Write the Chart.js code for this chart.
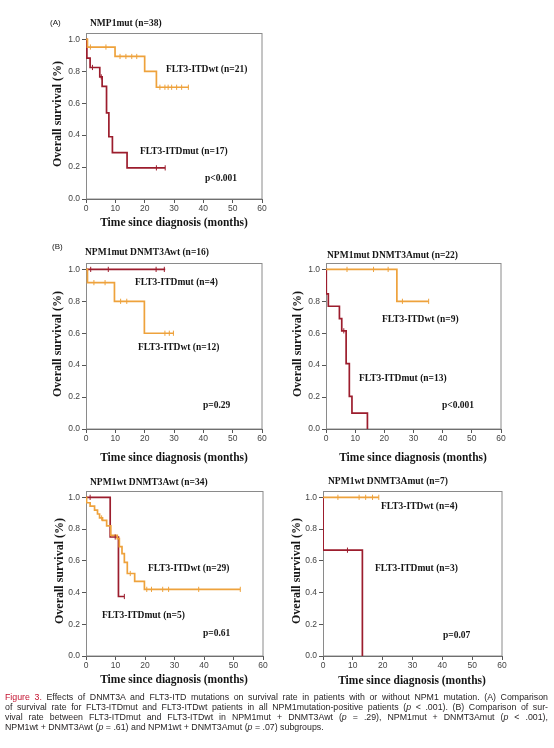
<!DOCTYPE html>
<html><head><meta charset="utf-8">
<script src="https://cdn.jsdelivr.net/npm/chart.js@4.4.1/dist/chart.umd.min.js"></script>
<style>
html,body{margin:0;padding:0;background:#fff;width:554px;height:748px;overflow:hidden;}
canvas{position:absolute;}
#cap{position:absolute;left:5px;top:692px;width:543px;font-family:'Liberation Sans',Arial,sans-serif;font-size:8.8px;line-height:10px;color:#231f20;}
#cap .j{text-align:justify;text-align-last:justify;}
#cap .r{color:#c4122f;}
</style>
</head><body>
<canvas id="pA"></canvas>
<canvas id="pB1"></canvas>
<canvas id="pB2"></canvas>
<canvas id="pC1"></canvas>
<canvas id="pC2"></canvas>
<div id="cap">
<div class="j"><span class="r">Figure 3.</span> Effects of DNMT3A and FLT3-ITD mutations on survival rate in patients with or without NPM1 mutation. (A) Comparison</div>
<div class="j">of survival rate for FLT3-ITDmut and FLT3-ITDwt patients in all NPM1mutation-positive patients (<i>p</i> &lt; .001). (B) Comparison of sur-</div>
<div class="j">vival rate between FLT3-ITDmut and FLT3-ITDwt in NPM1mut + DNMT3Awt (<i>p</i> = .29), NPM1mut + DNMT3Amut (<i>p</i> &lt; .001),</div>
<div>NPM1wt + DNMT3Awt (<i>p</i> = .61) and NPM1wt + DNMT3Amut (<i>p</i> = .07) subgroups.</div>
</div>
<script>
// ---------- axis / tick labels ----------
const X_TICKS = [0, 10, 20, 30, 40, 50, 60];
const Y_TICKS = [0, 0.2, 0.4, 0.6, 0.8, 1.0];
const X_TITLE = 'Time since diagnosis (months)';
const Y_TITLE = 'Overall survival (%)';

// ---------- Panel A: NMP1mut (n=38) ----------
const A_wt_time = [0, 0.5, 9.9, 20, 24];
const A_wt_surv = [1, 0.952, 0.893, 0.80, 0.70];
const A_wt_end = 35;
const A_wt_cens = [1.5, 6.8, 11.6, 13.6, 15.6, 17.3, 25.2, 26.9, 28, 29.2, 30.9, 32.6, 34.9];
const A_mut_time = [0, 0.3, 1.4, 4.7, 5.5, 7.0, 7.8, 9.0, 14.0];
const A_mut_surv = [1, 0.882, 0.824, 0.765, 0.706, 0.54, 0.39, 0.29, 0.195];
const A_mut_end = 27;
const A_mut_cens = [2.2, 5.2, 24, 27];

// ---------- Panel B1: NPM1mut DNMT3Awt (n=16) ----------
const B1_mut_time = [0];
const B1_mut_surv = [1];
const B1_mut_end = 27;
const B1_mut_cens = [1.6, 7.6, 23.9, 26.7];
const B1_wt_time = [0, 0.5, 9.7, 19.9];
const B1_wt_surv = [1, 0.917, 0.80, 0.60];
const B1_wt_end = 30;
const B1_wt_cens = [2.7, 6.5, 11.8, 13.9, 26.9, 28.4, 29.8];

// ---------- Panel B2: NPM1mut DNMT3Amut (n=22) ----------
const B2_wt_time = [0, 24.3];
const B2_wt_surv = [1, 0.80];
const B2_wt_end = 35.2;
const B2_wt_cens = [7.2, 16.3, 21.3, 26.2, 35.2];
const B2_mut_time = [0, 0.1, 0.8, 4.6, 5.4, 6.9, 8.0, 8.9, 14.2];
const B2_mut_surv = [1, 0.846, 0.769, 0.692, 0.615, 0.41, 0.205, 0.10, 0];
const B2_mut_end = 14.2;
const B2_mut_cens = [6.1];

// ---------- Panel C1: NPM1wt DNMT3Awt (n=34) ----------
const C1_mut_time = [0, 8.2, 11];
const C1_mut_surv = [1, 0.75, 0.375];
const C1_mut_end = 13;
const C1_mut_cens = [1.4, 9.9, 13];
const C1_wt_time = [0, 0.2, 1.4, 2.9, 3.9, 4.6, 5.6, 7.0, 8.4, 10.6, 11.3, 12.2, 13.0, 14.0, 16.5, 19.8];
const C1_wt_surv = [1, 0.966, 0.945, 0.92, 0.895, 0.87, 0.855, 0.82, 0.76, 0.74, 0.69, 0.645, 0.59, 0.52, 0.47, 0.42];
const C1_wt_end = 52.3;
const C1_wt_cens = [5.3, 15, 20.6, 22.2, 26, 28, 38.2, 52.3];

// ---------- Panel C2: NPM1wt DNMT3Amut (n=7) ----------
const C2_wt_time = [0];
const C2_wt_surv = [1];
const C2_wt_end = 18.7;
const C2_wt_cens = [5, 12.1, 14.3, 16.6, 18.7];
const C2_mut_time = [0, 0.05, 13.2];
const C2_mut_surv = [1, 0.667, 0];
const C2_mut_end = 13.2;
const C2_mut_cens = [8.2];

// ---------- styles ----------
const ORANGE = '#eea23c';
const RED = '#9c1d2d';
const SERIF = '"Liberation Serif","Times New Roman",serif';
const SANS = '"Liberation Sans",Arial,sans-serif';

function stepAt(times, surv, t) {
  let v = surv[0];
  for (let i = 0; i < times.length; i++) if (times[i] <= t) v = surv[i];
  return v;
}
function curve(times, surv, end) {
  const pts = times.map((t, i) => ({x: t, y: surv[i]}));
  if (end > times[times.length - 1]) pts.push({x: end, y: surv[surv.length - 1]});
  return pts;
}
function series(times, surv, end, cens, color) {
  return [
    {type: 'line', data: curve(times, surv, end), stepped: 'before', borderColor: color,
     borderWidth: 1.7, pointRadius: 0, fill: false, order: 2},
    {type: 'line', data: cens.map(t => ({x: t, y: stepAt(times, surv, t)})), showLine: false,
     pointStyle: 'line', rotation: 90, pointRadius: 2.6, borderColor: color, pointBorderColor: color,
     pointBorderWidth: 1, order: 1}
  ];
}

const PANELS = [
  {id: 'pA', L: 86, T: 33, R: 262, B: 199, yT: [58, 114], xT: [174, 223],
   sets: [series(A_wt_time, A_wt_surv, A_wt_end, A_wt_cens, ORANGE), series(A_mut_time, A_mut_surv, A_mut_end, A_mut_cens, RED)],
   texts: [['NMP1mut (n=38)', 90, 24, 'b'], ['(A)', 50, 23, 's'],
           ['FLT3-ITDwt (n=21)', 166, 70, 'b'], ['FLT3-ITDmut (n=17)', 140, 152, 'b'], ['p<0.001', 205, 179, 'b']]},
  {id: 'pB1', L: 86, T: 263, R: 262, B: 429, yT: [58, 344], xT: [174, 458],
   sets: [series(B1_wt_time, B1_wt_surv, B1_wt_end, B1_wt_cens, ORANGE), series(B1_mut_time, B1_mut_surv, B1_mut_end, B1_mut_cens, RED)],
   texts: [['NPM1mut DNMT3Awt (n=16)', 85, 253, 'b'], ['(B)', 52, 247, 's'],
           ['FLT3-ITDmut (n=4)', 135, 283, 'b'], ['FLT3-ITDwt (n=12)', 138, 348, 'b'], ['p=0.29', 203, 406, 'b']]},
  {id: 'pB2', L: 326, T: 263, R: 501, B: 429, yT: [298, 344], xT: [413, 458],
   sets: [series(B2_wt_time, B2_wt_surv, B2_wt_end, B2_wt_cens, ORANGE), series(B2_mut_time, B2_mut_surv, B2_mut_end, B2_mut_cens, RED)],
   texts: [['NPM1mut DNMT3Amut (n=22)', 327, 256, 'b'],
           ['FLT3-ITDwt (n=9)', 382, 320, 'b'], ['FLT3-ITDmut (n=13)', 359, 379, 'b'], ['p<0.001', 442, 406, 'b']]},
  {id: 'pC1', L: 86, T: 491, R: 263, B: 656, yT: [60, 571], xT: [174, 680],
   sets: [series(C1_wt_time, C1_wt_surv, C1_wt_end, C1_wt_cens, ORANGE), series(C1_mut_time, C1_mut_surv, C1_mut_end, C1_mut_cens, RED)],
   texts: [['NPM1wt DNMT3Awt (n=34)', 90, 483, 'b'],
           ['FLT3-ITDwt (n=29)', 148, 569, 'b'], ['FLT3-ITDmut (n=5)', 102, 616, 'b'], ['p=0.61', 203, 634, 'b']]},
  {id: 'pC2', L: 323, T: 491, R: 502, B: 656, yT: [297, 571], xT: [412, 681],
   sets: [series(C2_wt_time, C2_wt_surv, C2_wt_end, C2_wt_cens, ORANGE), series(C2_mut_time, C2_mut_surv, C2_mut_end, C2_mut_cens, RED)],
   texts: [['NPM1wt DNMT3Amut (n=7)', 328, 482, 'b'],
           ['FLT3-ITDwt (n=4)', 381, 507, 'b'], ['FLT3-ITDmut (n=3)', 375, 569, 'b'], ['p=0.07', 443, 636, 'b']]}
];

const WY = 30, HX = 16;

PANELS.forEach(P => {
  const cx = P.L - 45, cy = P.T - 28;
  const cw = P.R - cx + 12, ch = P.B - cy + 40;
  const cv = document.getElementById(P.id);
  cv.style.left = cx + 'px'; cv.style.top = cy + 'px';
  cv.style.width = cw + 'px'; cv.style.height = ch + 'px';
  cv.width = cw; cv.height = ch;

  const deco = {
    id: 'deco' + P.id,
    beforeDatasetsDraw(chart) {
      const a = chart.chartArea, c = chart.ctx;
      c.save();
      c.strokeStyle = '#8a8a8a'; c.lineWidth = 1;
      c.strokeRect(a.left + 0.5, a.top + 0.5, a.right - a.left - 0.5, a.bottom - a.top - 0.5);
      c.restore();
    },
    afterDraw(chart) {
      const c = chart.ctx;
      c.save();
      c.fillStyle = '#151515';
      c.textBaseline = 'middle';
      P.texts.forEach(([t, x, y, k]) => {
        c.font = k === 'b' ? 'bold 9.5px ' + SERIF : '8px ' + SANS;
        c.textAlign = 'left';
        c.fillText(t, x - cx, y - cy);
      });
      c.font = 'bold 11.5px ' + SERIF;
      c.textAlign = 'center';
      c.fillText(X_TITLE, P.xT[0] - cx, P.xT[1] - cy);
      c.translate(P.yT[0] - cx, P.yT[1] - cy);
      c.rotate(-Math.PI / 2);
      c.font = 'bold 12px ' + SERIF;
      c.fillText(Y_TITLE, 0, 0);
      c.restore();
    }
  };

  new Chart(cv, {
    data: {datasets: P.sets.flat()},
    options: {
      responsive: false, animation: false, devicePixelRatio: 1,
      layout: {padding: {left: 45 - WY, top: P.T - cy, right: cx + cw - P.R, bottom: ch - (P.B - cy) - HX}},
      plugins: {legend: {display: false}, tooltip: {enabled: false}},
      events: [],
      scales: {
        x: {type: 'linear', min: 0, max: 60,
            afterBuildTicks(s) { s.ticks = X_TICKS.map(v => ({value: v})); },
            afterFit(s) { s.height = HX; },
            ticks: {font: {family: SANS, size: 8.5}, color: '#444', padding: 1, maxRotation: 0, autoSkip: false},
            grid: {display: true, drawOnChartArea: false, tickLength: 4, color: '#555'},
            border: {color: '#555', width: 1}},
        y: {type: 'linear', min: 0, max: 1.04,
            afterBuildTicks(s) { s.ticks = Y_TICKS.map(v => ({value: v})); },
            afterFit(s) { s.width = WY; },
            ticks: {font: {family: SANS, size: 8.5}, color: '#444', padding: 2, autoSkip: false,
                    callback: v => Number(v).toFixed(1)},
            grid: {display: true, drawOnChartArea: false, tickLength: 4, color: '#555'},
            border: {color: '#555', width: 1}}
      }
    },
    plugins: [deco]
  });
});
</script>
</body></html>
